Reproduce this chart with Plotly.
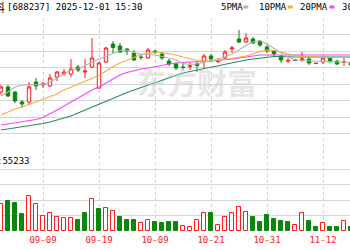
import numpy as np
import plotly.graph_objects as go

# ---------------- data ----------------
dates = ["09-01", "09-02", "09-03", "09-04", "09-05", "09-08", "09-09", "09-10", "09-11", "09-12",
         "09-15", "09-16", "09-17", "09-18", "09-19", "09-22", "09-23", "09-24", "09-25", "09-26",
         "09-29", "09-30", "10-09", "10-10", "10-13", "10-14", "10-15", "10-16", "10-17", "10-20",
         "10-21", "10-22", "10-23", "10-24", "10-27", "10-28", "10-29", "10-30", "10-31", "11-03",
         "11-04", "11-05", "11-06", "11-07", "11-10", "11-11", "11-12", "11-13", "11-14", "11-17",
         "11-18"]
tick_labels = ["09-09", "09-19", "10-09", "10-21", "10-31", "11-12"]

open_ = [34.50, 35.75, 34.50, 32.00, 32.00, 37.00, 36.25, 36.00, 38.25, 39.00,
         39.00, 40.75, 39.50, 40.75, 35.50, 42.00, 46.50, 46.00, 45.25, 44.25,
         43.25, 43.00, 44.75, 44.00, 42.25, 41.50, 40.75, 40.88, 41.50, 42.00,
         43.50, 42.13, 43.00, 45.25, 47.75, 47.00, 47.75, 47.25, 45.75, 44.75,
         43.50, 42.25, 42.50, 42.63, 42.75, 41.60, 42.00, 43.00, 42.25, 41.88,
         42.00]
high = [36.25, 36.25, 34.75, 32.50, 37.00, 38.00, 37.00, 39.00, 39.75, 40.25,
        42.75, 41.25, 42.75, 48.00, 42.00, 45.75, 47.25, 46.75, 45.50, 45.00,
        44.00, 45.50, 45.00, 44.25, 42.75, 42.00, 41.75, 42.00, 42.00, 44.00,
        44.00, 43.00, 45.00, 46.00, 50.00, 49.25, 48.25, 47.50, 46.25, 45.00,
        43.75, 43.00, 42.75, 44.50, 43.25, 41.75, 43.25, 43.25, 42.50, 43.00,
        42.25]
low = [33.75, 33.25, 31.75, 30.50, 31.25, 35.00, 35.50, 35.75, 37.25, 38.50,
       38.25, 39.50, 38.00, 40.50, 35.25, 41.75, 44.25, 44.25, 43.75, 42.25,
       42.50, 42.75, 44.00, 42.50, 41.00, 40.00, 40.00, 40.00, 39.50, 40.50,
       42.00, 41.75, 42.50, 44.25, 46.75, 46.75, 46.50, 45.75, 44.25, 43.25,
       41.75, 41.75, 42.25, 42.00, 41.25, 41.55, 41.50, 41.75, 41.25, 41.00,
       41.00]
close = [35.75, 33.50, 32.25, 31.50, 35.75, 36.00, 36.50, 38.00, 39.50, 39.50,
         40.25, 40.00, 39.75, 43.00, 41.75, 45.50, 45.63, 44.50, 44.75, 42.50,
         43.13, 45.00, 44.50, 43.00, 41.50, 40.50, 40.63, 41.00, 41.13, 43.50,
         42.75, 42.25, 44.50, 45.50, 47.00, 48.00, 46.75, 46.25, 44.75, 44.00,
         42.50, 42.38, 42.50, 42.75, 41.75, 41.68, 43.00, 42.08, 41.50, 42.00,
         41.25]

ma5 = [33.50, 34.50, 35.75, 36.25, 36.25, 36.25, 36.38, 37.00, 38.00, 39.00,
       40.00, 40.38, 41.00, 42.00, 42.75, 43.38, 44.25, 44.88, 45.00, 44.38,
       44.00, 43.88, 43.75, 43.38, 43.00, 42.50, 41.63, 41.38, 41.50, 42.00,
       42.38, 42.63, 43.25, 44.00, 45.00, 46.13, 47.00, 47.38, 46.50, 45.38,
       44.25, 43.25, 42.50, 42.38, 42.25, 42.13, 42.13, 42.13, 42.00, 42.00,
       41.88]
ma10 = [28.75, 29.50, 30.25, 30.75, 31.38, 32.00, 32.63, 33.25, 34.00, 35.00,
        35.75, 36.50, 37.25, 37.88, 38.63, 39.75, 40.88, 41.75, 42.38, 43.13,
        43.88, 44.25, 44.50, 44.38, 44.13, 43.75, 43.25, 42.75, 42.38, 42.25,
        42.25, 42.38, 42.63, 42.88, 43.13, 43.50, 44.00, 44.63, 45.00, 44.88,
        44.50, 44.00, 43.63, 43.38, 43.25, 43.13, 43.13, 43.13, 43.13, 43.13,
        43.13]
ma20 = [26.25, 26.50, 26.75, 27.00, 27.25, 27.63, 28.13, 29.00, 30.00, 31.00,
        32.00, 32.88, 34.00, 35.00, 35.75, 36.75, 37.75, 38.75, 39.38, 39.88,
        40.25, 40.50, 40.75, 41.13, 41.50, 41.75, 41.88, 42.00, 42.00, 42.13,
        42.25, 42.38, 42.50, 42.75, 43.00, 43.25, 43.50, 43.75, 43.75, 43.75,
        43.75, 43.75, 43.75, 43.75, 43.75, 43.75, 43.75, 43.75, 43.75, 43.75,
        43.75]
ma30 = [25.00, 25.25, 25.50, 25.75, 26.00, 26.25, 26.63, 27.00, 27.50, 28.00,
        28.50, 29.25, 30.00, 30.75, 31.50, 32.25, 33.00, 33.75, 34.38, 35.00,
        35.63, 36.25, 36.88, 37.50, 38.13, 38.75, 39.25, 39.63, 40.00, 40.38,
        40.75, 41.00, 41.38, 41.75, 42.13, 42.50, 42.75, 43.00, 43.25, 43.38,
        43.38, 43.25, 43.25, 43.25, 43.25, 43.25, 43.25, 43.25, 43.25, 43.25,
        43.25]

volume = [54000, 60000, 56000, 34000, 70000, 54000, 31000, 36000, 28000, 26000,
          26000, 22000, 36000, 64000, 44000, 46000, 40000, 28000, 22000, 22000,
          16000, 22000, 18000, 16000, 18000, 18000, 10000, 9000, 22000, 36000,
          36000, 12000, 29000, 36000, 48000, 38000, 28000, 18000, 32000, 24000,
          20000, 18000, 12000, 36000, 20000, 8600, 16000, 7400, 8600, 20000,
          8000]
# 1 = volume bar drawn as "up" (red, hollow), 0 = "down" (green, filled)
vol_up = [1, 0, 0, 0, 1, 1, 1, 1, 1, 1,
          1, 0, 0, 1, 0, 1, 1, 0, 0, 0,
          1, 1, 0, 0, 0, 0, 1, 1, 1, 1,
          0, 1, 1, 1, 1, 1, 0, 0, 0, 0,
          0, 0, 1, 1, 0, 0, 1, 0, 0, 1,
          0]

title_name = "超卓航科"
title_rest = "[688237] 2025-12-01 15:30"
vol_label = "量:55233"
ma_names = ["5PMA", "10PMA", "20PMA", "30PMA"]
watermark = "东方财富"

# ---------------- styles ----------------
RED = "#ff1a1a"
GREEN = "#0a870a"
MA_COLORS = ["#b4b4b4", "#f5ad3b", "#ff3dff", "#2e8b57"]
GRID = "#d6d6d6"
MONO = "DejaVu Sans Mono"

W, H = 350, 250
idx = np.arange(len(dates))
o = np.array(open_); h = np.array(high); l = np.array(low); c = np.array(close)

fig = go.Figure()

# moving averages (drawn under candles)
for vals, col in zip([ma30, ma20, ma10, ma5], MA_COLORS[::-1]):
    fig.add_trace(go.Scatter(x=idx, y=vals, mode="lines", line=dict(color=col, width=1.1),
                             hoverinfo="skip", xaxis="x", yaxis="y"))

# candles split by direction
up = c > o
dn = c < o
flat = c == o
fig.add_trace(go.Candlestick(x=idx[up], open=o[up], high=h[up], low=l[up], close=c[up],
                             increasing=dict(line=dict(color=RED, width=1), fillcolor="white"),
                             decreasing=dict(line=dict(color=RED, width=1), fillcolor="white"),
                             whiskerwidth=0, xaxis="x", yaxis="y"))
fig.add_trace(go.Candlestick(x=idx[dn], open=o[dn], high=h[dn], low=l[dn], close=c[dn],
                             increasing=dict(line=dict(color=GREEN, width=1), fillcolor=GREEN),
                             decreasing=dict(line=dict(color=GREEN, width=1), fillcolor=GREEN),
                             whiskerwidth=0, xaxis="x", yaxis="y"))
fig.add_trace(go.Candlestick(x=idx[flat], open=o[flat], high=h[flat], low=l[flat], close=c[flat],
                             increasing=dict(line=dict(color="#555555", width=1), fillcolor="#555555"),
                             decreasing=dict(line=dict(color="#555555", width=1), fillcolor="#555555"),
                             whiskerwidth=0, xaxis="x", yaxis="y"))

# volume bars
vu = np.array(vol_up) == 1
fig.add_trace(go.Bar(x=idx, y=volume, width=0.62,
                     marker=dict(color=np.where(vu, "white", GREEN).tolist(),
                                 line=dict(color=np.where(vu, RED, GREEN).tolist(), width=1)),
                     xaxis="x2", yaxis="y2", hoverinfo="skip"))

tick_idx = [dates.index(t) for t in tick_labels]
xr = [-1 / 7, len(dates) - 1 - 1 / 7]
xcommon = dict(range=xr, showgrid=True, gridcolor="#cfcfcf", griddash="3px,3px", gridwidth=1,
               tickmode="array", tickvals=tick_idx, ticktext=tick_labels, zeroline=False,
               showline=False, ticks="", fixedrange=True)
price_rng = [20, 53]
vol_rng = [0, 162000]

fig.update_layout(
    width=W, height=H, margin=dict(l=0, r=0, t=0, b=0),
    paper_bgcolor="white", plot_bgcolor="white", showlegend=False,
    xaxis=dict(**xcommon, anchor="y", showticklabels=False, rangeslider=dict(visible=False)),
    xaxis2=dict(**xcommon, anchor="y2", matches="x", showticklabels=True, ticklabelstandoff=2,
                tickfont=dict(family=MONO, size=9, color=RED)),
    yaxis=dict(domain=[1 - 150 / H, 1 - 18 / H], range=price_rng, showticklabels=False,
               tickmode="array", tickvals=np.linspace(price_rng[0], price_rng[1], 9).tolist(),
               gridcolor=GRID, zeroline=False, showline=False),
    yaxis2=dict(domain=[1 - 231 / H, 1 - 150 / H], range=vol_rng, showticklabels=False,
                tickmode="array", tickvals=[0, 31000, 62000, 93000, 124000, 162000],
                gridcolor=GRID, zeroline=False, showline=False),
    bargap=0,
)

def px(xp):
    return xp / W

def py(yp):
    return 1 - yp / H

ann = []
ann.append(dict(text=title_name, x=px(5.5), y=py(7), xanchor="right", yanchor="middle",
                font=dict(family="Noto Sans CJK SC", size=11, color="black")))
ann.append(dict(text=title_rest, x=px(5.5), y=py(7), xanchor="left", yanchor="middle",
                font=dict(family=MONO, size=9, color="black")))
for name, xp in zip(ma_names, [220, 257.7, 299, 340.7]):
    ann.append(dict(text=name, x=px(xp), y=py(7), xanchor="left", yanchor="middle",
                    font=dict(family=MONO, size=9, color="black")))
ann.append(dict(text=vol_label, x=px(30.5), y=py(161), xanchor="right", yanchor="middle",
                font=dict(family=MONO, size=9, color="black")))
ann.append(dict(text=watermark, x=px(197), y=py(81), xanchor="center", yanchor="middle",
                font=dict(family="Noto Sans CJK SC", size=30, weight="bold",
                          color="rgba(200,200,200,0.45)")))
for a in ann:
    a.update(xref="paper", yref="paper", showarrow=False, borderpad=0)
fig.update_layout(annotations=ann)

shapes = []
for xp, col in zip([243.3, 287.7, 329.3], MA_COLORS[:3]):
    shapes.append(dict(type="rect", xref="paper", yref="paper", x0=px(xp), x1=px(xp + 5),
                       y0=py(8.5), y1=py(5.5), fillcolor=col, line=dict(width=0)))
fig.update_layout(shapes=shapes)

fig.write_html("out.html")
